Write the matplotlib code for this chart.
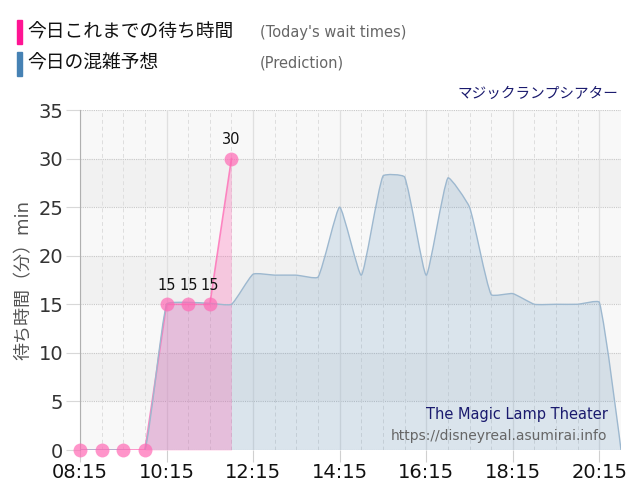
import numpy as np
import matplotlib.pyplot as plt
from matplotlib.path import Path
from matplotlib.patches import PathPatch

plt.rcParams['font.family'] = ['DejaVu Sans', 'Noto Sans CJK JP']

# wait times observed so far today
wait_times = ["08:15", "08:45", "09:15", "09:45", "10:15", "10:45", "11:15", "11:45"]
wait_values = [0, 0, 0, 0, 15, 15, 15, 30]

# prediction for the day
pred_times = ["08:15", "08:45", "09:15", "09:45", "10:15", "10:45", "11:15", "11:45",
              "12:15", "12:45", "13:15", "13:45", "14:15", "14:45", "15:15", "15:45",
              "16:15", "16:45", "17:15", "17:45", "18:15", "18:45", "19:15", "19:45",
              "20:15", "20:45"]
pred_values = [0, 0, 0, 0, 15, 15.2, 15.1, 15, 18.1, 18, 18, 17.8, 25, 18, 28.2, 28.1,
               18, 28, 25, 16, 16.1, 15, 15, 15, 15.2, 0]

tick_labels = ["08:15", "10:15", "12:15", "14:15", "16:15", "18:15", "20:15"]
y_ticks = [0, 5, 10, 15, 20, 25, 30, 35]


def to_hours(t):
    h, m = t.split(":")
    return int(h) + int(m) / 60


def smooth_path(xs, ys, tension=0.15, sx=43.0, sy=9.7):
    # bezier through the points, control points like a chart.js spline
    pts = np.column_stack([xs, ys]).astype(float)
    n = len(pts)
    cps = []
    for i in range(n):
        cur = pts[i]
        if i == 0 or i == n - 1:
            cps.append((cur, cur))
            continue
        prev, nxt = pts[i - 1], pts[i + 1]
        d01 = np.hypot((cur[0] - prev[0]) * sx, (cur[1] - prev[1]) * sy)
        d12 = np.hypot((nxt[0] - cur[0]) * sx, (nxt[1] - cur[1]) * sy)
        fa = tension * d01 / (d01 + d12)
        fb = tension * d12 / (d01 + d12)
        cps.append((cur - fa * (nxt - prev), cur + fb * (nxt - prev)))
    verts = [pts[0]]
    codes = [Path.MOVETO]
    for i in range(n - 1):
        verts += [cps[i][1], cps[i + 1][0], pts[i + 1]]
        codes += [Path.CURVE4] * 3
    return verts, codes


wx = np.array([to_hours(t) for t in wait_times])
px = np.array([to_hours(t) for t in pred_times])
tx = [to_hours(t) for t in tick_labels]

pink = '#ff69b4'
blue = '#4682b4'

fig = plt.figure(figsize=(6.4, 5.0), dpi=100)
ax = fig.add_axes([80 / 640, 50 / 500, 541 / 640, 340 / 500])
ax.set_facecolor('#f8f8f8')
for lo in (5, 15, 25):
    ax.axhspan(lo, lo + 5, color='#f1f1f1', zorder=0, lw=0)

# grid
for y in y_ticks:
    ax.axhline(y, color='#c8c8c8', lw=0.8, ls=(0, (1, 1)), zorder=1)
for x in np.arange(px[0], px[-1] + 0.01, 0.5):
    if any(abs(x - t) < 1e-6 for t in tx):
        ax.axvline(x, color='#e0e0e0', lw=0.9, zorder=1)
    else:
        ax.axvline(x, color='#dedede', lw=0.7, ls=(0, (4, 3)), zorder=1)

# prediction area (smoothed)
verts, codes = smooth_path(px, pred_values)
fill_verts = verts + [(px[-1], 0), (px[0], 0), (px[0], 0)]
fill_codes = codes + [Path.LINETO, Path.LINETO, Path.CLOSEPOLY]
ax.add_patch(PathPatch(Path(fill_verts, fill_codes), facecolor=blue, alpha=0.17, lw=0, zorder=2))
ax.add_patch(PathPatch(Path(verts, codes), facecolor='none', edgecolor='#9db8cf', lw=1.0, zorder=5))

# wait time area
ax.fill_between(wx, wait_values, 0, color=pink, alpha=0.3, lw=0, zorder=3)
ax.plot(wx, wait_values, color=pink, lw=1.2, alpha=0.8, zorder=4)
ax.plot(wx, wait_values, 'o', color=pink, alpha=0.7, ms=10, mew=0, zorder=6, clip_on=False)

for x, v in zip(wx, wait_values):
    if v > 0:
        ax.annotate(str(v), (x, v), xytext=(0, 8), textcoords='offset points',
                    ha='center', va='bottom', fontsize=10.5, color='#111111', zorder=7)

ax.set_xlim(px[0], px[-1])
ax.set_ylim(0, 35)
ax.set_xticks(tx)
ax.set_xticklabels(tick_labels, fontsize=14, color='#111111')
ax.set_yticks(y_ticks)
ax.set_yticklabels([str(v) for v in y_ticks], fontsize=14, color='#333333')
ax.tick_params(axis='x', length=8.5, color='#d0d0d0', pad=1)
ax.tick_params(axis='y', length=10, color='#d8d8d8', pad=2)
for s in ('top', 'right', 'bottom'):
    ax.spines[s].set_visible(False)
ax.spines['left'].set_color('#b0b0b0')
ax.set_ylabel('待ち時間（分）min', fontsize=13, color='#555555', labelpad=4)

# legend-like header
fig.patches.append(plt.Rectangle((17 / 640, 1 - 44 / 500), 5 / 640, 24 / 500,
                                 transform=fig.transFigure, color='#ff1493'))
fig.patches.append(plt.Rectangle((17 / 640, 1 - 76 / 500), 5 / 640, 24 / 500,
                                 transform=fig.transFigure, color='#4682b4'))
fig.text(27 / 640, 1 - 32 / 500, '今日これまでの待ち時間', fontsize=13.5, va='center', color='#111111')
fig.text(260 / 640, 1 - 32 / 500, "(Today's wait times)", fontsize=10.5, va='center', color='#666666')
fig.text(27 / 640, 1 - 63 / 500, '今日の混雑予想', fontsize=13.5, va='center', color='#111111')
fig.text(260 / 640, 1 - 63 / 500, '(Prediction)', fontsize=10.5, va='center', color='#666666')
fig.text(618 / 640, 1 - 93 / 500, 'マジックランプシアター', fontsize=10.5, ha='right', va='center',
         color='#1a1a6e')

ax.text(0.975, 0.105, 'The Magic Lamp Theater', transform=ax.transAxes, fontsize=10.5,
        ha='right', va='center', color='#1a1a6e', zorder=8)
ax.text(0.975, 0.042, 'https://disneyreal.asumirai.info', transform=ax.transAxes, fontsize=10,
        ha='right', va='center', color='#666666', zorder=8)

fig.savefig('out.png', dpi=100)
